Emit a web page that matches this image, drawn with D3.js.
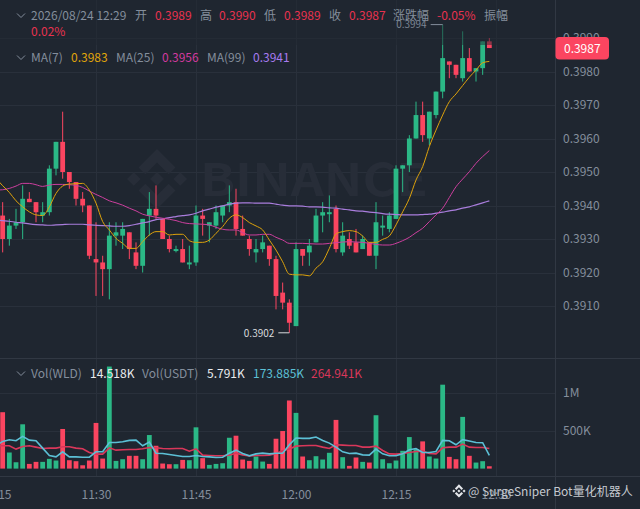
<!DOCTYPE html>
<html><head><meta charset="utf-8">
<script src="https://cdn.jsdelivr.net/npm/d3@7"></script>
<style>
html,body{margin:0;padding:0;background:#1f2630;overflow:hidden}
svg{display:block}
text{font-family:"Noto Sans CJK SC","Noto Sans",sans-serif}
</style></head><body>
<svg id="c" width="640" height="509"></svg>
<script>
const open=[.3937,.3930,.3934,.3935,.3942,.3941,.3937,.3938,.3951,.3959,.3950,.3947,.3942,.3940,.3924,.3923,.3921,.3931,.3931,.3932,.3926,.3922,.3937,.3939,.3936,.3930,.3927,.3927,.3923,.3923,.3937,.3934,.3934,.3937,.3940,.3941,.3933,.3930,.3926,.3927,.3928,.3924,.3914,.3911,.3904,.3927,.3926,.3929,.3937,.3938,.3939,.3926,.3930,.3929,.3927,.3929,.3925,.3934,.3933,.3936,.3951,.3952,.3960,.3967,.3960,.3967,.3974,.3983,.3982,.3978,.3984,.3980,.3981,.3989];
const high=[.3941,.3936,.3939,.3946,.3944,.3941,.3941,.3952,.3959,.3968,.3950,.3947,.3944,.3940,.3935,.3925,.3935,.3935,.3935,.3932,.3929,.3936,.3944,.3946,.3936,.3931,.3928,.3930,.3928,.3940,.3939,.3935,.3940,.3940,.3946,.3945,.3937,.3931,.3930,.3931,.3928,.3925,.3917,.3912,.3929,.3927,.3930,.3939,.3941,.3943,.3940,.3935,.3932,.3933,.3931,.3929,.3941,.3937,.3938,.3952,.3952,.3961,.3971,.3971,.3968,.3974,.3994,.3983,.3982,.3992,.3987,.3981,.3989,.3990];
const low=[.3926,.3928,.3933,.3930,.3941,.3935,.3935,.3937,.3949,.3948,.3945,.3940,.3938,.3924,.3913,.3913,.3912,.3928,.3927,.3924,.3921,.3920,.3931,.3936,.3930,.3926,.3926,.3923,.3921,.3922,.3931,.3929,.3933,.3935,.3938,.3931,.3931,.3925,.3923,.3926,.3922,.3909,.3909,.3902,.3904,.3922,.3922,.3929,.3932,.3935,.3926,.3925,.3927,.3926,.3927,.3925,.3921,.3931,.3932,.3936,.3944,.3950,.3960,.3959,.3958,.3966,.3972,.3978,.3978,.3977,.3980,.3977,.3979,.3987];
const close=[.3930,.3934,.3935,.3942,.3941,.3938,.3938,.3951,.3959,.3950,.3947,.3942,.3940,.3925,.3923,.3921,.3931,.3932,.3933,.3927,.3922,.3936,.3939,.3937,.3930,.3927,.3927,.3923,.3923,.3937,.3936,.3935,.3938,.3940,.3941,.3933,.3931,.3927,.3927,.3929,.3924,.3913,.3911,.3905,.3927,.3925,.3928,.3937,.3938,.3938,.3927,.3931,.3928,.3926,.3930,.3925,.3935,.3934,.3937,.3951,.3952,.3960,.3967,.3961,.3968,.3974,.3984,.3982,.3979,.3984,.3980,.3981,.3989,.3987];
const volume=[746,213,84,586,62,89,89,129,107,524,111,98,44,107,604,133,1350,102,124,169,169,124,444,302,67,58,58,115,111,546,138,49,62,71,408,435,120,102,160,93,62,395,497,901,737,160,111,164,120,209,644,151,36,147,89,80,706,124,71,107,235,417,258,360,160,133,1110,155,124,684,169,80,98,31];
// moving averages start one minute earlier than the visible candles (11:15)
const ma7=[.39481,.39459,.39439,.39414,.39396,.39381,.39372,.39370,.39396,.39436,.39458,.39464,.39465,.39466,.39446,.39407,.39352,.39327,.39302,.39287,.39272,.39272,.39292,.39312,.39322,.39322,.39312,.39314,.39314,.39295,.39290,.39290,.39297,.39317,.39337,.39362,.39372,.39364,.39349,.39339,.39327,.39297,.39267,.39232,.39195,.39193,.39193,.39190,.39213,.39232,.39272,.39315,.39322,.39325,.39322,.39309,.39290,.39290,.39299,.39309,.39342,.39381,.39421,.39476,.39516,.39576,.39625,.39670,.39710,.39733,.39758,.39783,.39804,.39826,.39830];
const ma25=[.39446,.39447,.39451,.39458,.39466,.39466,.39462,.39457,.39461,.39463,.39463,.39462,.39460,.39454,.39443,.39433,.39424,.39414,.39408,.39401,.39392,.39384,.39374,.39369,.39365,.39362,.39359,.39355,.39349,.39346,.39345,.39344,.39342,.39335,.39329,.39327,.39327,.39319,.39312,.39312,.39314,.39314,.39305,.39297,.39287,.39287,.39287,.39286,.39285,.39285,.39287,.39289,.39291,.39292,.39291,.39290,.39287,.39284,.39282,.39282,.39287,.39295,.39305,.39319,.39332,.39352,.39372,.39392,.39424,.39456,.39479,.39501,.39526,.39546,.39564];
const ma99=[.39357,.39355,.39353,.39350,.39348,.39345,.39343,.39342,.39341,.39342,.39343,.39344,.39344,.39344,.39342,.39341,.39340,.39339,.39338,.39338,.39340,.39344,.39348,.39352,.39358,.39360,.39364,.39367,.39370,.39372,.39377,.39384,.39389,.39395,.39399,.39404,.39407,.39408,.39408,.39407,.39407,.39407,.39404,.39401,.39399,.39399,.39398,.39396,.39396,.39395,.39393,.39392,.39389,.39387,.39384,.39383,.39380,.39379,.39376,.39374,.39373,.39372,.39372,.39372,.39373,.39374,.39377,.39380,.39384,.39387,.39392,.39396,.39402,.39408,.39414];
const volMa7=[302,360,382,369,426,377,369,271,173,155,222,155,155,151,151,222,222,346,346,355,373,377,302,351,204,200,186,173,160,160,173,160,155,147,151,204,244,200,169,195,204,195,204,204,315,404,400,400,417,373,337,284,222,200,204,182,178,258,195,169,169,195,249,266,213,213,226,373,369,315,382,364,346,342,174];
const volMa25=[302,302,302,258,293,302,284,266,271,271,289,289,271,262,213,191,191,275,244,249,253,253,262,280,275,266,262,266,266,231,262,178,173,169,169,178,204,182,169,173,173,178,200,235,258,297,302,306,306,284,266,315,311,306,306,284,284,297,240,195,191,200,213,226,231,200,195,275,284,284,324,284,280,280,265];
const priceTicks=[.3910,.3920,.3930,.3940,.3950,.3960,.3970,.3980,.3990];
const volTicks=[500,1000];
const volTickLabels=["500K","1M"];
const timeTickLabels=["11:15","11:30","11:45","12:00","12:15","12:30"];
const legendRow1=[["2026/08/24 12:29",31,"g"],["开",135,"g"],["0.3989",155,"r"],["高",200,"g"],["0.3990",219,"r"],["低",264,"g"],["0.3989",284,"r"],["收",329,"g"],["0.3987",349,"r"],["涨跌幅",393,"g"],["-0.05%",437,"r"],["振幅",484,"g"]];
const legendMA=[["MA(7)",31,"g"],["0.3983",71,"y"],["MA(25)",116,"g"],["0.3956",162,"m"],["MA(99)",207,"g"],["0.3941",253,"p"]];
const legendVol=[["Vol(WLD)",31,"g"],["14.518K",90,"w"],["Vol(USDT)",142,"g"],["5.791K",207,"w"],["173.885K",253,"b"],["264.941K",311,"r2"]];

const BG="#1f2630",GRID="#29303b",SEP="#313843",GREEN="#2bb886",RED="#fb4560",TXT="#848e9c";
const COL={g:TXT,r:"#e8324f",y:"#e0a50a",m:"#d13a9f",p:"#a77bf0",w:"#eaecef",b:"#5cc0d6",r2:"#d9375a"};
const LOGO="M38.73 53.2l24.59-24.58 24.6 24.6 14.3-14.31L63.32 0 24.43 38.9zM0 63.31l14.3-14.31 14.31 14.31-14.31 14.3zM38.73 73.41L63.32 98l24.6-24.6 14.31 14.29-38.9 38.91-38.91-38.88-.02-.02zM98 63.31l14.3-14.3 14.31 14.3-14.31 14.31zM77.83 63.3L63.32 48.78 52.59 59.51l-1.24 1.23-2.54 2.54 14.51 14.5 14.51-14.47z";

const svg=d3.select("#c");
svg.append("rect").attr("width",640).attr("height",509).attr("fill",BG);

const t0=new Date(2026,7,24,11,15), t1=new Date(2026,7,24,12,30);
const times=d3.timeMinute.range(t0,t1);
const candleTimes=times.slice(1);
const x=d3.scaleTime().domain([t0,t1]).range([-4,496]);
const y=d3.scaleLinear().domain([.3910,.3990]).range([306,38]);
const yv=d3.scaleLinear().domain([0,1000]).range([468.6,393]);
const timeTicks=d3.timeMinute.every(15).range(t0,new Date(2026,7,24,12,31));

// grid
const gGrid=svg.append("g").attr("stroke",GRID).attr("shape-rendering","crispEdges");
gGrid.selectAll(".v").data(timeTicks).join("line").attr("x1",d=>Math.round(x(d))+.5).attr("x2",d=>Math.round(x(d))+.5).attr("y1",0).attr("y2",477);
gGrid.selectAll(".h").data(priceTicks).join("line").attr("x1",0).attr("x2",555).attr("y1",d=>Math.round(y(d))+.5).attr("y2",d=>Math.round(y(d))+.5);
gGrid.selectAll(".hv").data(volTicks).join("line").attr("x1",0).attr("x2",555).attr("y1",d=>Math.round(yv(d))+.5).attr("y2",d=>Math.round(yv(d))+.5);

// separators
const gSep=svg.append("g").attr("stroke",SEP).attr("shape-rendering","crispEdges");
gSep.append("line").attr("x1",555.5).attr("x2",555.5).attr("y1",0).attr("y2",509);
gSep.append("line").attr("x1",0).attr("x2",640).attr("y1",358.5).attr("y2",358.5);
gSep.append("line").attr("x1",0).attr("x2",640).attr("y1",476.5).attr("y2",476.5);

// watermark
svg.append("path").attr("d",LOGO).attr("fill","#272d38").attr("transform","translate(127,149) scale(.474)");
svg.append("text").text("BINANCE").attr("x",200).attr("y",195.5).attr("font-size",45).attr("font-weight",700).attr("fill","#272d38").attr("textLength",228).attr("lengthAdjust","spacingAndGlyphs");

// candles
const idx=d3.range(open.length);
const colorOf=i=>close[i]>=open[i]?GREEN:RED;
const gC=svg.append("g");
gC.selectAll("line").data(idx).join("line")
  .attr("x1",i=>x(candleTimes[i])).attr("x2",i=>x(candleTimes[i]))
  .attr("y1",i=>y(high[i])).attr("y2",i=>y(low[i]))
  .attr("stroke",colorOf).attr("stroke-width",1);
gC.selectAll("rect").data(idx).join("rect")
  .attr("x",i=>x(candleTimes[i])-2.4).attr("width",4.8)
  .attr("y",i=>y(Math.max(open[i],close[i])))
  .attr("height",i=>Math.max(2,y(Math.min(open[i],close[i]))-y(Math.max(open[i],close[i]))))
  .attr("fill",colorOf);

// price MAs
const lineP=d3.line().x((d,i)=>x(times[i])).y(d=>y(d)).curve(d3.curveMonotoneX);
[[ma99,"#a97ddc",1.2],[ma25,"#cc3f9e",1],[ma7,"#dda20c",1]].forEach(([a,c,w])=>{
  svg.append("path").attr("d",lineP(a)).attr("fill","none").attr("stroke",c).attr("stroke-width",w);
});

// dim band behind legend
svg.append("rect").attr("x",0).attr("y",0).attr("width",520).attr("height",45).attr("fill",BG).attr("opacity",.5);

// volume
svg.append("g").selectAll("rect").data(idx).join("rect")
  .attr("x",i=>x(candleTimes[i])-2.4).attr("width",4.8)
  .attr("y",i=>yv(volume[i])).attr("height",i=>yv(0)-yv(volume[i]))
  .attr("fill",colorOf);
const lineV=d3.line().x((d,i)=>x(times[i])).y(d=>yv(d));
svg.append("path").attr("d",lineV(volMa25)).attr("fill","none").attr("stroke","#d9375a").attr("stroke-width",1.6);
svg.append("path").attr("d",lineV(volMa7)).attr("fill","none").attr("stroke","#5cc0d6").attr("stroke-width",1.6);

// axes
function style(g){g.select(".domain").remove();g.selectAll(".tick line").remove();g.selectAll("text").attr("fill",TXT).attr("font-size",12).attr("font-family",'"Noto Sans CJK SC","Noto Sans",sans-serif');}
svg.append("g").attr("transform","translate(563,0)")
  .call(d3.axisRight(y).tickValues(priceTicks).tickSize(0).tickPadding(0).tickFormat(d3.format(".4f"))).call(style);
svg.append("g").attr("transform","translate(563,0)")
  .call(d3.axisRight(yv).tickValues(volTicks).tickSize(0).tickPadding(0).tickFormat((d,i)=>volTickLabels[i])).call(style);
svg.append("g").attr("transform","translate(0,490)")
  .call(d3.axisBottom(x).tickValues(timeTicks).tickSize(0).tickPadding(0).tickFormat((d,i)=>timeTickLabels[i])).call(style);

// current price tag
svg.append("rect").attr("x",555.5).attr("y",37).attr("width",53.5).attr("height",22.5).attr("rx",4).attr("fill",RED);
svg.append("text").text("0.3987").attr("x",582.3).attr("y",48.5).attr("dy",".35em").attr("text-anchor","middle").attr("font-size",12).attr("fill","#fff");

// extremes
const hiI=high.indexOf(d3.max(high)), loI=low.indexOf(d3.min(low));
svg.append("line").attr("x1",x(candleTimes[hiI])).attr("x2",x(candleTimes[hiI])-12).attr("y1",y(high[hiI])).attr("y2",y(high[hiI])).attr("stroke","#848e9c");
svg.append("text").text(d3.format(".4f")(high[hiI])).attr("x",x(candleTimes[hiI])-16).attr("y",y(high[hiI])).attr("dy",".35em").attr("text-anchor","end").attr("font-size",10).attr("fill","#7c8593");
svg.append("line").attr("x1",x(candleTimes[loI])).attr("x2",x(candleTimes[loI])-11).attr("y1",y(low[loI])).attr("y2",y(low[loI])).attr("stroke","#d8dadd");
svg.append("text").text(d3.format(".4f")(low[loI])).attr("x",x(candleTimes[loI])-15).attr("y",y(low[loI])+1).attr("dy",".35em").attr("text-anchor","end").attr("font-size",10).attr("fill","#d8dadd");

// legends
function legend(items,py){
  items.forEach(([s,px,c])=>svg.append("text").text(s).attr("x",px).attr("y",py).attr("dy",".35em").attr("font-size",12).attr("fill",COL[c]));
  svg.append("path").attr("d",`M17 ${py-2.5}L21 ${py+1.5}L25 ${py-2.5}`).attr("fill","none").attr("stroke",TXT).attr("stroke-width",1);
}
legend(legendRow1,16);
svg.append("text").text("0.02%").attr("x",31).attr("y",32).attr("dy",".35em").attr("font-size",12).attr("fill",COL.r);
legend(legendMA,58);
legend(legendVol,374);

// bottom mark
svg.append("path").attr("d",LOGO).attr("fill","#e4e6ea").attr("transform","translate(452.3,484.3) scale(.105)");
svg.append("text").text("@ SurgeSniper Bot量化机器人").attr("x",468).attr("y",491.5).attr("dy",".35em").attr("font-size",12).attr("fill","#c5c9cf");
</script>
</body></html>
